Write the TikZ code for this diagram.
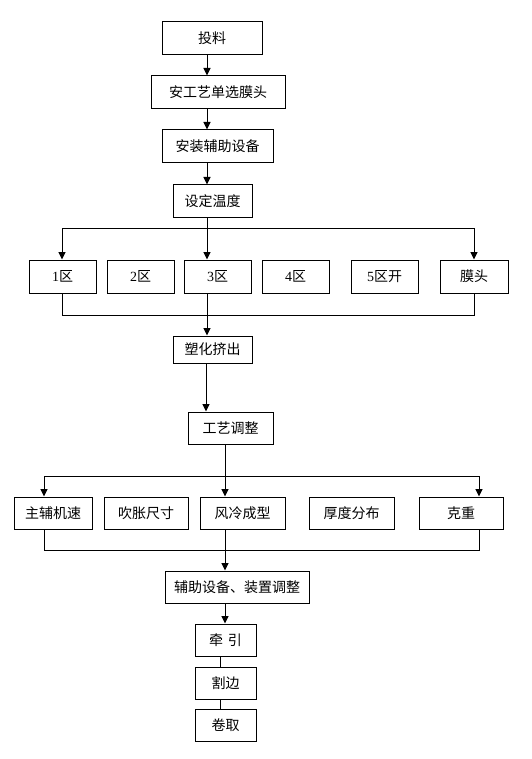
\documentclass[tikz,border=0pt]{standalone}
\usepackage{fontspec}
\newfontfamily\cjk{Noto Sans CJK SC}
\newfontfamily\dig{Liberation Serif}
\usetikzlibrary{arrows.meta,calc}
\begin{document}
\begin{tikzpicture}[x=1pt,y=-1pt,
  box/.style={draw,line width=1pt,inner sep=0pt,font=\cjk\fontsize{14}{16}\selectfont},
  conn/.style={line width=1pt},
  arr/.style={line width=1pt,-{Triangle[width=7pt,length=7.5pt]}}]
\useasboundingbox[fill=white] (0,0) rectangle (531,759);
% top chain
\node[box,minimum width=100pt,minimum height=33pt] (t1) at (212,38.5) {投料};
\node[box,minimum width=134pt,minimum height=33pt] (t2) at (218,92.5) {安工艺单选膜头};
\node[box,minimum width=111pt,minimum height=33pt] (t3) at (217.5,146.5) {安装辅助设备};
\node[box,minimum width=79pt,minimum height=32pt] (t4) at (212.5,201) {设定温度};
\coordinate (xa) at (207,0);
\draw[arr] (t1.south -| xa) -- (t2.north -| xa);
\draw[arr] (t2.south -| xa) -- (t3.north -| xa);
\draw[arr] (t3.south -| xa) -- (t4.north -| xa);
% zones
\node[box,minimum width=67pt,minimum height=33pt] (z1) at (62.5,276.5) {{\dig 1}区};
\node[box,minimum width=67pt,minimum height=33pt] (z2) at (140.5,276.5) {{\dig 2}区};
\node[box,minimum width=67pt,minimum height=33pt] (z3) at (217.5,276.5) {{\dig 3}区};
\node[box,minimum width=67pt,minimum height=33pt] (z4) at (295.5,276.5) {{\dig 4}区};
\node[box,minimum width=67pt,minimum height=33pt] (z5) at (384.5,276.5) {{\dig 5}区开};
\node[box,minimum width=68pt,minimum height=33pt] (z6) at (474,276.5) {膜头};
\coordinate (xl) at (62,0);
\coordinate (xr) at (474,0);
\coordinate (bt) at (0,228);
\coordinate (bb) at (0,315);
\draw[conn] (t4.south -| xa) -- (bt -| xa);
\draw[conn] (bt -| xl) -- (bt -| xr);
\draw[arr] (bt -| xl) -- (z1.north -| xl);
\draw[arr] (bt -| xa) -- (z3.north -| xa);
\draw[arr] (bt -| xr) -- (z6.north -| xr);
\draw[conn] (z1.south -| xl) -- (bb -| xl) -- (bb -| xr) -- (z6.south -| xr);
\draw[conn] (z3.south -| xa) -- (bb -| xa);
% extrusion
\node[box,minimum width=79pt,minimum height=27pt] (p1) at (212.5,349.5) {塑化挤出};
\node[box,minimum width=85pt,minimum height=32pt] (p2) at (230.5,428) {工艺调整};
\draw[arr] (bb -| xa) -- (p1.north -| xa);
\coordinate (xb) at (206,0);
\draw[arr] (p1.south -| xb) -- (p2.north -| xb);
% second row
\node[box,minimum width=78pt,minimum height=32pt] (a1) at (53,513) {主辅机速};
\node[box,minimum width=84pt,minimum height=32pt] (a2) at (146,513) {吹胀尺寸};
\node[box,minimum width=85pt,minimum height=32pt] (a3) at (242.5,513) {风冷成型};
\node[box,minimum width=85pt,minimum height=32pt] (a4) at (351.5,513) {厚度分布};
\node[box,minimum width=84pt,minimum height=32pt] (a5) at (461,513) {克重};
\coordinate (xc) at (225,0);
\coordinate (xl2) at (44,0);
\coordinate (xr2) at (479,0);
\coordinate (ct) at (0,476);
\coordinate (cb) at (0,550);
\draw[conn] (p2.south -| xc) -- (ct -| xc);
\draw[conn] (ct -| xl2) -- (ct -| xr2);
\draw[arr] (ct -| xl2) -- (a1.north -| xl2);
\draw[arr] (ct -| xc) -- (a3.north -| xc);
\draw[arr] (ct -| xr2) -- (a5.north -| xr2);
\draw[conn] (a1.south -| xl2) -- (cb -| xl2) -- (cb -| xr2) -- (a5.south -| xr2);
\draw[conn] (a3.south -| xc) -- (cb -| xc);
% final chain
\node[box,minimum width=144pt,minimum height=32pt] (b1) at (237,587) {辅助设备、装置调整};
\node[box,minimum width=61pt,minimum height=32pt] (b2) at (225.5,640) {牵\,\,引};
\node[box,minimum width=61pt,minimum height=32pt] (b3) at (225.5,683) {割边};
\node[box,minimum width=61pt,minimum height=32pt] (b4) at (225.5,725) {卷取};
\draw[arr] (cb -| xc) -- (b1.north -| xc);
\draw[arr] (b1.south -| xc) -- (b2.north -| xc);
\coordinate (xd) at (220,0);
\draw[conn] (b2.south -| xd) -- (b3.north -| xd);
\draw[conn] (b3.south -| xd) -- (b4.north -| xd);
\end{tikzpicture}
\end{document}
